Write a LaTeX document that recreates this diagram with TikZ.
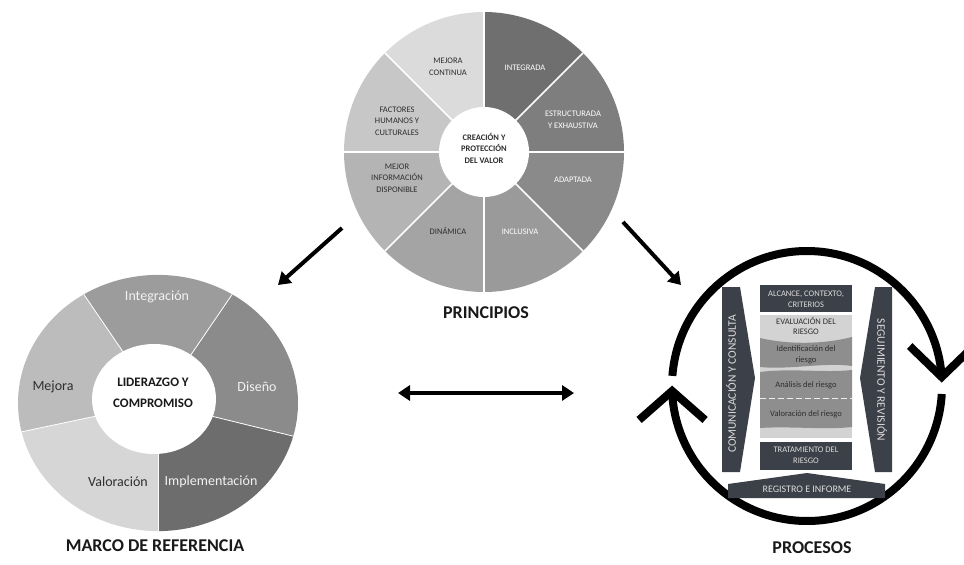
\documentclass[tikz,border=0pt]{standalone}
\usepackage{fontspec}
\setmainfont{Carlito}
\usetikzlibrary{arrows.meta,calc}

% greys of the principle wheel
\definecolor{pA}{HTML}{6F6F6F}
\definecolor{pB}{HTML}{7E7E7E}
\definecolor{pC}{HTML}{8A8A8A}
\definecolor{pD}{HTML}{9A9A9A}
\definecolor{pE}{HTML}{A4A4A4}
\definecolor{pF}{HTML}{B4B4B4}
\definecolor{pG}{HTML}{C7C7C7}
\definecolor{pH}{HTML}{DBDBDB}
% greys of the framework ring
\definecolor{rInt}{HTML}{9C9C9C}
\definecolor{rDis}{HTML}{8B8B8B}
\definecolor{rImp}{HTML}{6D6D6D}
\definecolor{rVal}{HTML}{D6D6D6}
\definecolor{rMej}{HTML}{BCBCBC}
% process block colours
\definecolor{slate}{HTML}{3C4048}
\definecolor{evalbg}{HTML}{D3D3D3}
\definecolor{band}{HTML}{8E8E8E}
\definecolor{txtdark}{HTML}{2E2E2E}
\definecolor{txtlight}{HTML}{DCDCDC}

\begin{document}
\begin{tikzpicture}[x=1pt,y=-1pt,
  lbl/.style={font=\fontsize{8.5}{11.5}\selectfont, align=center, inner sep=0pt},
  lbldark/.style={lbl, text=txtdark},
  lbllight/.style={lbl, text=white},
  ringlbl/.style={font=\fontsize{14}{16}\selectfont, inner sep=0pt},
  caption/.style={font=\bfseries\fontsize{18}{20}\selectfont, text=black!90, inner sep=0pt},
  boxlbl/.style={font=\fontsize{8.5}{11}\selectfont, align=center, inner sep=0pt, text=txtlight},
  bandlbl/.style={font=\fontsize{8.5}{10.5}\selectfont, align=center, inner sep=0pt, text=txtdark},
  sidelbl/.style={font=\fontsize{11.5}{12}\selectfont, inner sep=0pt, text=txtlight},
  bigarrow/.style={line width=4pt, -{Triangle[width=15pt,length=12pt]}},
  bigarrows/.style={line width=4pt, {Triangle[width=15pt,length=12pt]}-{Triangle[width=15pt,length=12pt]}},
  cycleline/.style={line width=8pt, black}]
\useasboundingbox (0,0) rectangle (964,565);
\clip (0,0) rectangle (964,565);

% ---------- Principle wheel ----------
\begin{scope}[shift={(484,152)}, yscale=-1]
  \foreach \a/\c in {45/pA, 0/pB, -45/pC, -90/pD, -135/pE, 180/pF, 135/pG, 90/pH}
    \fill[\c] (0,0) -- (\a:140) arc[start angle=\a, end angle=\a+45, radius=140] -- cycle;
  \foreach \a in {0,45,...,315}
    \draw[white, line width=1.5pt] (0,0) -- (\a:140);
  \fill[white] (0,0) circle[radius=45];
\end{scope}
\node[lbllight] (integrada) at (525,68) {INTEGRADA};
\node[lbldark]  (mejcont)   at (448,67) {MEJORA\\CONTINUA};
\node[lbldark]  (factores)  at (397,121) {FACTORES\\HUMANOS Y\\CULTURALES};
\node[lbllight] (estruct)   at (573,120) {ESTRUCTURADA\\Y EXHAUSTIVA};
\node[lbllight] (adaptada)  at (573,180) {ADAPTADA};
\node[lbllight] (inclusiva) at (520,232) {INCLUSIVA};
\node[lbldark]  (dinamica)  at (448,231) {DINÁMICA};
\node[lbldark]  (mejinfo)   at (397,178) {MEJOR\\INFORMACIÓN\\DISPONIBLE};
\node[lbldark, font=\bfseries\fontsize{8.5}{11.5}\selectfont] (valor) at (484,148) {CREACIÓN Y\\PROTECCIÓN\\DEL VALOR};
\node[caption] (principios) at (486,313) {PRINCIPIOS};

% ---------- Framework ring ----------
\begin{scope}[shift={(158,403)}, yscale=-0.915]
  \foreach \a/\b/\c in {-90/-15/rImp, -15/58/rDis, 58/122/rInt, 122/193/rMej, 193/270/rVal}
    \fill[\c] (0,0) -- (\a:140) arc[start angle=\a, end angle=\b, radius=140] -- cycle;
  \foreach \a in {-90,-15,58,122,193}
    \draw[white, line width=0.8pt] (0,0) -- (\a:140);
\end{scope}
\fill[white] (154,399) ellipse[x radius=62, y radius=55];
\node[ringlbl, text=white!95!black] (integ) at (157,297) {Integración};
\node[ringlbl, text=white!95!black] (diseno) at (257,387) {Diseño};
\node[ringlbl, text=white!95!black] (implem) at (211,482) {Implementación};
\node[ringlbl, text=txtdark] (valora) at (118,482) {Valoración};
\node[ringlbl, text=txtdark] (mejora) at (53,387) {Mejora};
\node[font=\bfseries\fontsize{13}{21}\selectfont, align=center, text=black!90, inner sep=0pt] (lider) at (153,393) {LIDERAZGO Y\\COMPROMISO};
\node[caption] (marco) at (155,546) {MARCO DE REFERENCIA};

% ---------- Process cycle ----------
\begin{scope}[shift={(807,386)}, yscale=-1]
  \draw[cycleline] (175.7:135) arc[start angle=175.7, end angle=3.8, radius=135];
  \draw[cycleline] (-3.4:135) arc[start angle=-3.4, end angle=-177.9, radius=135];
  \coordinate (rv) at (3.8:135);
  \coordinate (lv) at (182.1:135);
  \draw[cycleline, line join=miter] (rv) ++(-32,31) -- (rv) -- ++(32,31);
  \draw[cycleline, line join=miter] (lv) ++(-33,-29) -- (lv) -- ++(33,-29);
\end{scope}

% side bars
\fill[slate] (722,287) -- (740,287) -- (755,378) -- (740,472) -- (722,472) -- cycle;
\fill[slate] (892,287) -- (875,287) -- (860,378) -- (875,472) -- (892,472) -- cycle;
\node[sidelbl, rotate=90] (comun) at (731,384) {COMUNICACIÓN Y CONSULTA};
\node[sidelbl, rotate=-90] (segui) at (882,380) {SEGUIMIENTO Y REVISIÓN};

% central column
\fill[slate] (760,285) rectangle (852,312);
\node[boxlbl] (alcance) at (806,299) {ALCANCE, CONTEXTO,\\CRITERIOS};
\fill[evalbg] (760,315) rectangle (852,438);
\node[bandlbl] (evalua) at (806,326) {EVALUACIÓN DEL\\RIESGO};
\fill[band] (760,338) .. controls (790,345) and (825,344) .. (852,337)
  -- (852,366) .. controls (825,362) and (790,370) .. (760,367) -- cycle;
\fill[band] (760,372) .. controls (790,368) and (825,373) .. (852,370)
  -- (852,427) .. controls (825,430) and (790,426) .. (760,428) -- cycle;
\draw[white!85!band, line width=1pt, dash pattern=on 6pt off 3pt] (760,398) -- (852,398);
\node[bandlbl] (ident) at (806,355) {Identificación del\\riesgo};
\node[bandlbl] (anali) at (806,385) {Análisis del riesgo};
\node[bandlbl] (valri) at (806,414) {Valoración del riesgo};
\fill[slate] (760,442) rectangle (852,470);
\node[boxlbl] (tratam) at (806,455) {TRATAMIENTO DEL\\RIESGO};
\fill[slate] (728,498) -- (728,484) -- (807,473) -- (885,484) -- (885,498) -- cycle;
\node[boxlbl, font=\fontsize{10}{11}\selectfont] (registro) at (807,489) {REGISTRO E INFORME};
\node[caption] (procesos) at (812,548) {PROCESOS};

% ---------- Connectors ----------
\coordinate (pl) at (342,228);
\coordinate (ml) at (278,285);
\coordinate (pr) at (623,222);
\coordinate (mr) at (681,285);
\coordinate (da) at (398,393);
\coordinate (db) at (574,393);
\draw[bigarrow] (pl) -- (ml);
\draw[bigarrow] (pr) -- (mr);
\draw[bigarrows] (da) -- (db);
\end{tikzpicture}
\end{document}
